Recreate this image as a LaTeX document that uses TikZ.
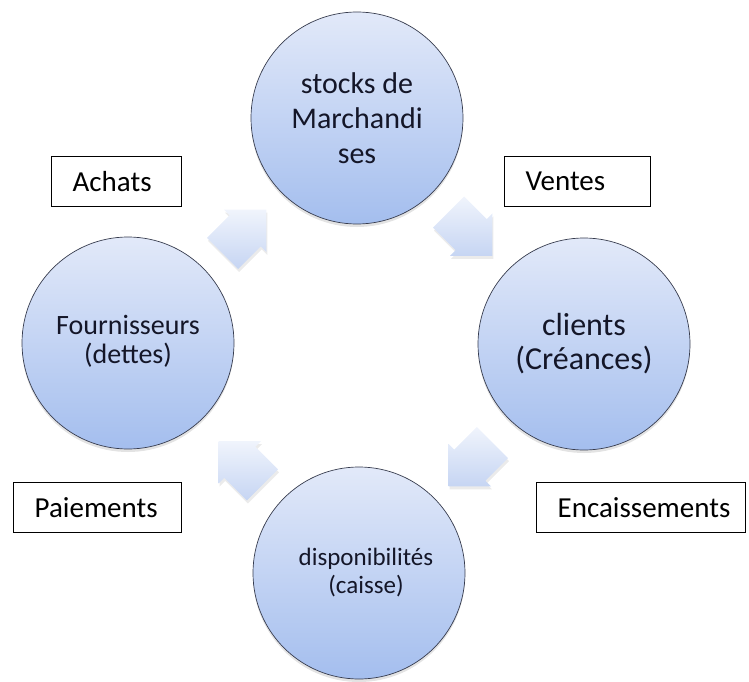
\documentclass[tikz,border=0pt]{standalone}
\usepackage{fontspec}
\setmainfont{Carlito}
\usetikzlibrary{shadows,calc}
\definecolor{circtop}{RGB}{226,233,249}
\definecolor{circbot}{RGB}{164,190,238}
\definecolor{circline}{RGB}{55,60,78}
\definecolor{txt}{RGB}{20,22,40}
\definecolor{arrtop}{RGB}{240,244,252}
\definecolor{arrbot}{RGB}{198,213,243}
\newcommand\cyclearrow[3]{%
  \begin{scope}[shift={#2},rotate=#3]
    \coordinate (#1-1) at (-31,-22);
    \coordinate (#1-2) at (1,-22);
    \coordinate (#1-3) at (1,-30);
    \coordinate (#1-4) at (31,0);
    \coordinate (#1-5) at (1,30);
    \coordinate (#1-6) at (1,22);
    \coordinate (#1-7) at (-31,22);
  \end{scope}
  \fill[arrowshadow] (#1-1)--(#1-2)--(#1-3)--(#1-4)--(#1-5)--(#1-6)--(#1-7)--cycle;
  \shade[arrowbody] (#1-1)--(#1-2)--(#1-3)--(#1-4)--(#1-5)--(#1-6)--(#1-7)--cycle;
}
\newcommand\twolines[4]{\raisebox{#1}{\begin{tabular}{@{}c@{}}#3\\[#2]#4\end{tabular}}}
\begin{document}
\begin{tikzpicture}[x=1pt,y=-1pt,
  bubble/.style={circle, minimum size=212pt, inner sep=0pt, draw=circline,
    line width=0.7pt, top color=circtop, bottom color=circbot, text=txt,
    align=center,
    drop shadow={opacity=0.22, shadow xshift=0pt, shadow yshift=-3pt}},
  tag/.style={draw=black, line width=1.3pt, fill=white, minimum height=50pt,
    inner xsep=21pt, inner ysep=0pt, align=left, text=black,
    font=\fontsize{29}{34}\selectfont, anchor=north west},
  arrowshadow/.style={black, opacity=0.08, transform canvas={shift={(1pt,-3pt)}}},
  arrowbody/.style={top color=arrtop, bottom color=arrbot, draw=none}]
\useasboundingbox (0,0) rectangle (749,682);
% circle nodes
\node[bubble, font=\fontsize{30}{35}\selectfont] (stock) at (357,118)
  {stocks de\\Marchandi\\ses};
\node[bubble, font=\fontsize{28}{32}\selectfont] (fourn) at (128,343)
  {\twolines{-5pt}{-3pt}{Fournisseurs}{(dettes)}};
\node[bubble, font=\fontsize{32}{34}\selectfont] (client) at (584,344)
  {clients\\(Créances)};
\node[bubble, font=\fontsize{25}{30}\selectfont] (dispo) at (359,573)
  {\hspace*{14pt}\twolines{-11pt}{-2pt}{disponibilités}{(caisse)}};
% block arrows between circles
\cyclearrow{achA}{($(fourn)!0.5!(stock)+(2,1)$)}{45}
\cyclearrow{venA}{($(stock)!0.5!(client)+(0,3)$)}{-45}
\cyclearrow{encA}{($(client)!0.5!(dispo)+(-1,6)$)}{-135}
\cyclearrow{paiA}{($(dispo)!0.5!(fourn)+(-3,5)$)}{135}
% labels
\node[tag, text width=88pt] (achats) at (51,156) {Achats};
\node[tag, text width=104pt] (ventes) at (504,156) {Ventes};
\node[tag, text width=126pt] (paie) at (13,482) {Paiements};
\node[tag, text width=167pt] (encai) at (536,482) {Encaissements};
\end{tikzpicture}
\end{document}
